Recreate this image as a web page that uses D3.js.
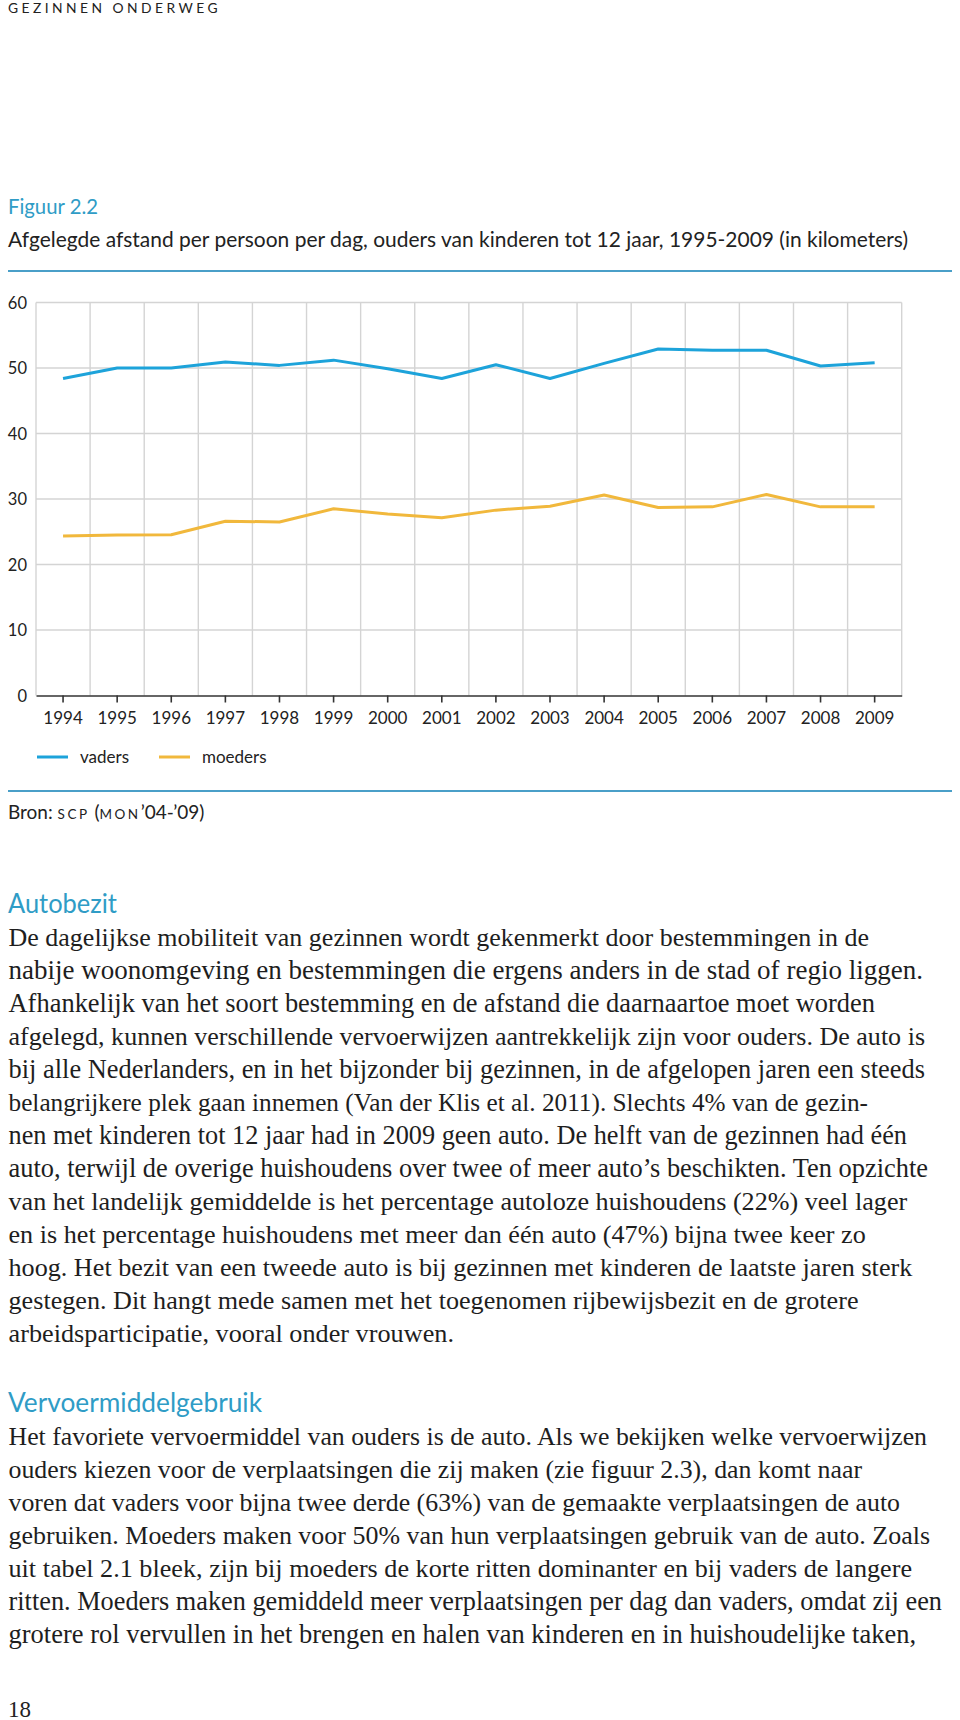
<!DOCTYPE html>
<html><head><meta charset="utf-8">
<script src="https://cdn.jsdelivr.net/npm/d3@7"></script>
<style>body{margin:0;background:#fff} svg{display:block}</style>
</head><body>
<svg id="c" width="960" height="1720"></svg>
<script>
// ---- data ----
const years = [1994,1995,1996,1997,1998,1999,2000,2001,2002,2003,2004,2005,2006,2007,2008,2009];
const vaders = [48.4,50.0,50.0,50.9,50.4,51.2,49.9,48.4,50.5,48.4,50.7,52.9,52.7,52.7,50.3,50.8];
const moeders = [24.35,24.5,24.55,26.6,26.5,28.5,27.7,27.15,28.3,28.9,30.6,28.7,28.8,30.7,28.8,28.8];
const yTicks = [0,10,20,30,40,50,60];
const seriesNames = ["vaders","moeders"];
const seriesColors = ["#1da3da","#f1b83c"];

const para1 = [
 "De dagelijkse mobiliteit van gezinnen wordt gekenmerkt door bestemmingen in de",
 "nabije woonomgeving en bestemmingen die ergens anders in de stad of regio liggen.",
 "Afhankelijk van het soort bestemming en de afstand die daarnaartoe moet worden",
 "afgelegd, kunnen verschillende vervoerwijzen aantrekkelijk zijn voor ouders. De auto is",
 "bij alle Nederlanders, en in het bijzonder bij gezinnen, in de afgelopen jaren een steeds",
 "belangrijkere plek gaan innemen (Van der Klis et al. 2011). Slechts 4% van de gezin-",
 "nen met kinderen tot 12 jaar had in 2009 geen auto. De helft van de gezinnen had één",
 "auto, terwijl de overige huishoudens over twee of meer auto’s beschikten. Ten opzichte",
 "van het landelijk gemiddelde is het percentage autoloze huishoudens (22%) veel lager",
 "en is het percentage huishoudens met meer dan één auto (47%) bijna twee keer zo",
 "hoog. Het bezit van een tweede auto is bij gezinnen met kinderen de laatste jaren sterk",
 "gestegen. Dit hangt mede samen met het toegenomen rijbewijsbezit en de grotere",
 "arbeidsparticipatie, vooral onder vrouwen."
];
const para1End = [869,923,875,925,925,868,907,928,null,null,null,null,454];
const para2 = [
 "Het favoriete vervoermiddel van ouders is de auto. Als we bekijken welke vervoerwijzen",
 "ouders kiezen voor de verplaatsingen die zij maken (zie figuur 2.3), dan komt naar",
 "voren dat vaders voor bijna twee derde (63%) van de gemaakte verplaatsingen de auto",
 "gebruiken. Moeders maken voor 50% van hun verplaatsingen gebruik van de auto. Zoals",
 "uit tabel 2.1 bleek, zijn bij moeders de korte ritten dominanter en bij vaders de langere",
 "ritten. Moeders maken gemiddeld meer verplaatsingen per dag dan vaders, omdat zij een",
 "grotere rol vervullen in het brengen en halen van kinderen en in huishoudelijke taken,"
];
const para2End = [927,862,900,930,912,942,916];

// ---- layout ----
const svg = d3.select("#c");
const SANS = "Lato, 'Open Sans', sans-serif";
const SERIF = "'Liberation Serif', 'DejaVu Serif', serif";
const TEAL = "#2f9cc6";
const L = 8;

function fitText(sel, w){ if(w) sel.attr("textLength", w).attr("lengthAdjust","spacingAndGlyphs"); return sel; }

// header
fitText(svg.append("text").attr("x",L).attr("y",13).attr("font-family",SANS).attr("font-size",14)
  .attr("letter-spacing",3.5).attr("fill","#222").text("GEZINNEN ONDERWEG"), 213);

fitText(svg.append("text").attr("x",L).attr("y",213.5).attr("font-family",SANS).attr("font-size",21)
  .attr("fill",TEAL).text("Figuur 2.2"), 90);
fitText(svg.append("text").attr("x",L).attr("y",247).attr("font-family",SANS).attr("font-size",20.5)
  .attr("fill","#222").text("Afgelegde afstand per persoon per dag, ouders van kinderen tot 12 jaar, 1995-2009 (in kilometers)"), 900);
svg.append("line").attr("x1",L).attr("x2",952).attr("y1",271).attr("y2",271).attr("stroke","#4a9fc8").attr("stroke-width",1.8);

// chart scales
const x = d3.scaleBand().domain(years).range([36, 901.7]).paddingInner(0).paddingOuter(0);
const y = d3.scaleLinear().domain([0,60]).range([695.5, 302.5]);
const cx = d => x(d) + x.bandwidth()/2;

const g = svg.append("g");
g.selectAll("line.hg").data(yTicks.filter(t=>t>0)).join("line")
  .attr("x1",36).attr("x2",901.7).attr("y1",d=>y(d)).attr("y2",d=>y(d))
  .attr("stroke","#d4d4d4").attr("stroke-width",1.4);
g.selectAll("line.vg").data(years.map(d=>x(d)).concat([x.range()[1]])).join("line")
  .attr("x1",d=>d).attr("x2",d=>d).attr("y1",y(60)).attr("y2",y(0))
  .attr("stroke","#d4d4d4").attr("stroke-width",1.4);

// y labels
const yAxis = d3.axisLeft(y).tickValues(yTicks).tickSize(0).tickPadding(0);
const ya = svg.append("g").attr("transform","translate(27,0)").call(yAxis);
ya.select(".domain").remove();
ya.selectAll("text").attr("font-family",SANS).attr("font-size",16.5).attr("fill","#222").attr("dy","0.35em");

// x axis
const xAxis = d3.axisBottom(x).tickSize(7).tickSizeOuter(0).tickPadding(9);
const xa = svg.append("g").attr("transform",`translate(0,${y(0)})`).call(xAxis);
xa.select(".domain").attr("stroke","#333").attr("stroke-width",1.6);
xa.selectAll(".tick line").attr("stroke","#333").attr("stroke-width",1.6);
xa.selectAll("text").attr("font-family",SANS).attr("font-size",17).attr("fill","#222");

// lines
const lineGen = d3.line().x((d,i)=>cx(years[i])).y(d=>y(d));
[vaders, moeders].forEach((s,i)=>{
  svg.append("path").attr("d", lineGen(s)).attr("fill","none")
    .attr("stroke", seriesColors[i]).attr("stroke-width",3).attr("stroke-linejoin","round");
});

// legend
const legX = [37, 159];
seriesNames.forEach((n,i)=>{
  svg.append("line").attr("x1",legX[i]).attr("x2",legX[i]+31).attr("y1",757).attr("y2",757)
    .attr("stroke",seriesColors[i]).attr("stroke-width",3);
  svg.append("text").attr("x",legX[i]+43).attr("y",762.5).attr("font-family",SANS).attr("font-size",17)
    .attr("fill","#222").text(n);
});

svg.append("line").attr("x1",L).attr("x2",952).attr("y1",791).attr("y2",791).attr("stroke","#4a9fc8").attr("stroke-width",1.8);

// source
const src = svg.append("text").attr("x",L).attr("y",818.5).attr("font-family",SANS).attr("font-size",19).attr("fill","#222");
src.append("tspan").text("Bron: ");
src.append("tspan").attr("font-size",13.5).attr("letter-spacing",2.5).text("SCP");
src.append("tspan").text(" (");
src.append("tspan").attr("font-size",13.5).attr("letter-spacing",2.5).text("MON");
src.append("tspan").text("’04-’09)");

// body text
function heading(txt, yb, w){
  fitText(svg.append("text").attr("x",L).attr("y",yb).attr("font-family",SANS).attr("font-weight",400)
    .attr("font-size",26).attr("fill",TEAL).text(txt), w);
}
const FS = 27.5;
const allNodes = [];
function para(lines, ends, y0, step){
  lines.forEach((t,i)=>{
    const n = svg.append("text").attr("x",L+0.5).attr("y",y0+i*step).attr("font-family",SERIF)
      .attr("font-size",FS).attr("fill","#1e1e1e").text(t);
    allNodes.push({n, end: ends[i]});
  });
}
heading("Autobezit", 912.5, 109);
para(para1, para1End, 946, 33);
heading("Vervoermiddelgebruik", 1411.5, 254);
para(para2, para2End, 1444.5, 33);

// fit body lines: shrink font if too wide, then stretch spacing to the measured width
const ratios = allNodes.filter(o=>o.end).map(o=>(o.end-L-0.5)/o.n.node().getComputedTextLength());
const k = Math.min(1, d3.mean(ratios));
allNodes.forEach(o=>{
  const nat = o.n.node().getComputedTextLength();
  const w = o.end ? (o.end-L-0.5) : nat*k;
  if (nat > w) {
    o.n.attr("font-size", FS * (w - 1) / nat);
  }
  const nat2 = o.n.node().getComputedTextLength();
  if (w > nat2 + 0.5) o.n.attr("textLength", w).attr("lengthAdjust","spacing");
});

svg.append("text").attr("x",L).attr("y",1716.5).attr("font-family",SERIF).attr("font-size",23)
  .attr("fill","#222").text("18");
</script>
</body></html>
